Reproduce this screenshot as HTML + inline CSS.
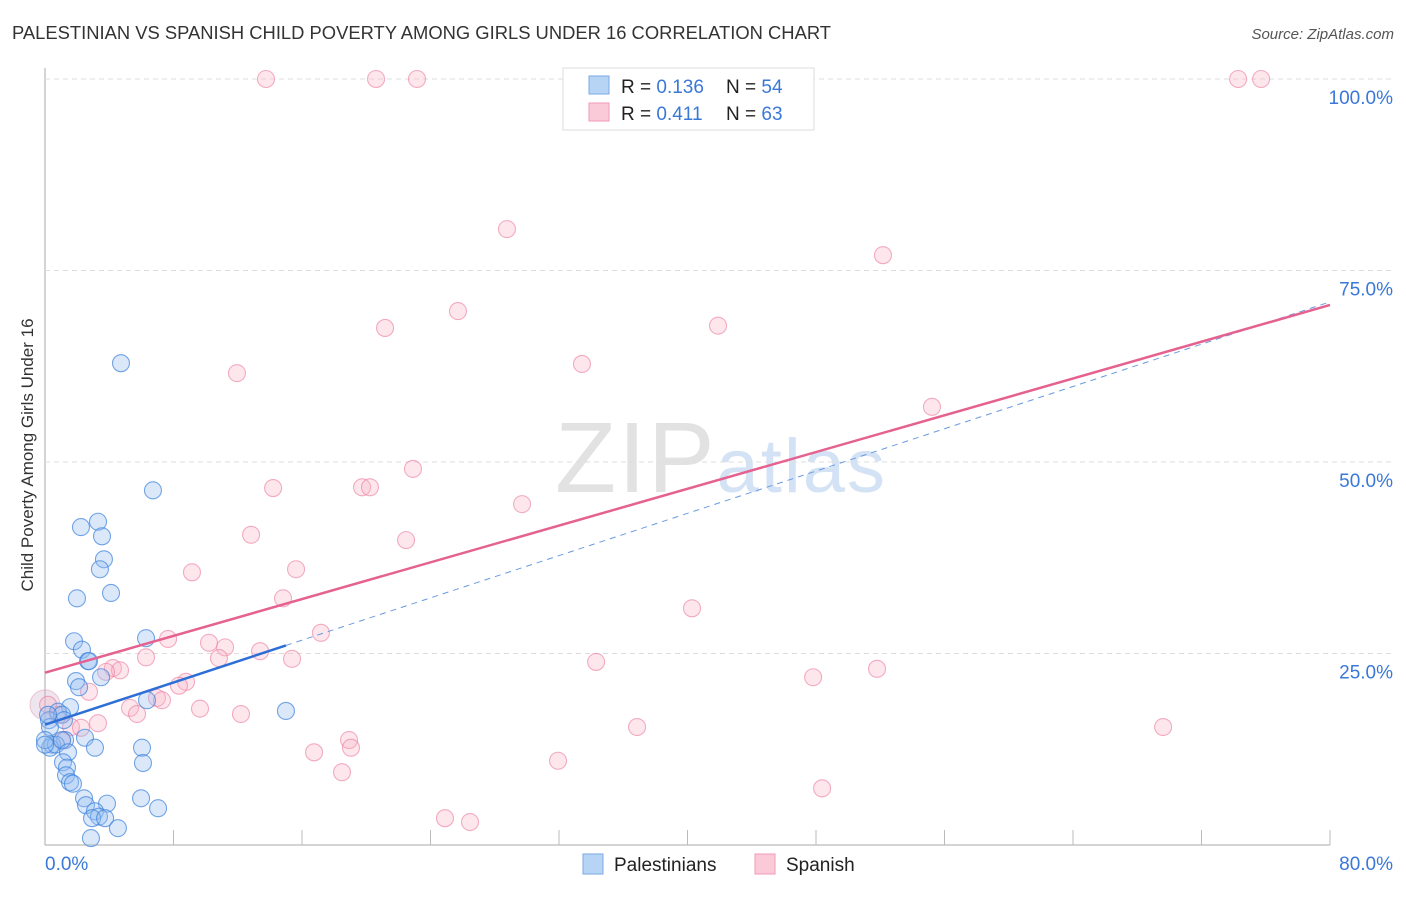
<!DOCTYPE html>
<html><head><meta charset="utf-8"><style>
body{margin:0;background:#fff;font-family:"Liberation Sans",sans-serif}
svg text{font-family:"Liberation Sans",sans-serif}
</style></head><body>
<svg id="c" width="1406" height="892">
<text x="12" y="39" font-size="18" fill="#333" textLength="819" lengthAdjust="spacingAndGlyphs">PALESTINIAN VS SPANISH CHILD POVERTY AMONG GIRLS UNDER 16 CORRELATION CHART</text>
<text x="1394" y="39" font-size="15" fill="#555" text-anchor="end" font-style="italic">Source: ZipAtlas.com</text>
<text x="720" y="492" font-size="100" fill="#e2e2e2" text-anchor="middle" font-family="Liberation Serif" textLength="330">ZIP<tspan fill="#d3e2f4" font-family="Liberation Sans" font-size="76">atlas</tspan></text>
<text transform="translate(33,455) rotate(-90)" font-size="17" fill="#333" text-anchor="middle">Child Poverty Among Girls Under 16</text>
<g id="grid"></g><g id="pts"></g><g id="lines"></g>
<g>
<rect x="563" y="68" width="251" height="62" fill="#fff" stroke="#ddd"/>
<rect x="589" y="76" width="20" height="18" fill="#b8d4f5" stroke="#7aaae8"/>
<rect x="589" y="103" width="20" height="18" fill="#fbcad8" stroke="#f19ab5"/>
<text x="621" y="93" font-size="19" fill="#222">R = <tspan fill="#3a78d8">0.136</tspan><tspan x="726">N = </tspan><tspan fill="#3a78d8">54</tspan></text>
<text x="621" y="120" font-size="19" fill="#222">R = <tspan fill="#3a78d8">0.411</tspan><tspan x="726">N = </tspan><tspan fill="#3a78d8">63</tspan></text>
</g>
<g>
<rect x="583" y="854" width="20" height="20" fill="#b8d4f5" stroke="#7aaae8"/>
<text x="614" y="871" font-size="19" fill="#222">Palestinians</text>
<rect x="755" y="854" width="20" height="20" fill="#fbcad8" stroke="#f19ab5"/>
<text x="786" y="871" font-size="19" fill="#222">Spanish</text>
</g>
</svg>
<script>
const xTicks=[0,80];
const yTicks=[25,50,75,100];
const blueX=[4.73,6.72,2.24,3.30,3.55,3.67,3.42,4.11,1.99,1.81,2.30,2.68,2.74,1.93,2.12,3.49,6.29,6.35,15.0,1.56,0.81,1.06,0.25,0.31,1.18,1.25,0.44,0.31,0.68,1.06,2.49,3.11,1.43,6.04,6.10,1.12,1.37,1.31,1.56,1.74,2.43,2.55,3.86,3.11,3.36,2.93,3.74,5.98,7.04,4.54,2.86,0,0,0.19];
const blueY=[62.9,46.3,41.5,42.2,40.3,37.3,36.0,32.9,32.2,26.6,25.5,24.0,24.0,21.4,20.6,21.9,27.0,18.9,17.5,18.0,17.4,17.0,16.3,15.4,16.3,13.7,13.1,12.7,13.1,13.7,14.0,12.7,12.1,12.7,10.7,10.8,10.1,9.1,8.2,8.0,6.1,5.2,5.4,4.4,3.7,3.5,3.5,6.1,4.8,2.2,0.9,13.7,13.1,17.0];
const pinkX=[13.76,20.61,23.16,74.28,75.71,28.76,52.17,25.71,21.17,41.90,11.95,33.43,55.22,22.91,14.20,19.74,20.23,29.70,12.83,22.48,9.15,15.63,14.82,40.28,17.18,7.66,10.21,11.21,6.29,10.83,13.39,15.38,34.31,51.80,47.82,4.23,4.67,3.80,8.78,8.34,6.97,7.28,5.29,5.73,9.65,12.20,2.74,3.30,1.62,2.24,1.06,0.81,0.19,16.75,18.93,19.05,18.49,36.86,69.61,31.94,48.38,24.90,26.46];
const pinkY=[100,100,100,100,100,80.4,77.0,69.7,67.5,67.8,61.6,62.8,57.2,49.1,46.6,46.7,46.7,44.5,40.5,39.8,35.6,36.0,32.2,30.9,27.7,26.9,26.4,25.8,24.5,24.4,25.3,24.3,23.9,23.0,21.9,23.1,22.8,22.6,21.3,20.8,19.2,18.9,17.9,17.1,17.8,17.1,20.0,15.9,15.4,15.3,13.6,17.0,18.3,12.1,13.7,12.7,9.5,15.4,15.4,11.0,7.4,3.5,3.0];
const blueTrend=[15.7,0.69];
const pinkTrend=[22.5,0.60];
const X=v=>45+v*1285/80, Y=v=>845-v*7.66;
const NS='http://www.w3.org/2000/svg';
function mk(t,a,p){const e=document.createElementNS(NS,t);for(const k in a)e.setAttribute(k,a[k]);p.appendChild(e);return e;}
const g=document.getElementById('grid');
const ax=mk('line',{x1:45,y1:68,x2:45,y2:845,stroke:'#aaa'},g);


const bx=mk('line',{x1:45,y1:845,x2:1330,y2:845,stroke:'#aaa'},g);


for(let i=1;i<=10;i++){const t=mk('line',{x1:45+i*128.5,y1:830,x2:45+i*128.5,y2:845,stroke:'#bbb'},g);

}
yTicks.forEach(v=>{const l=mk('line',{x1:45,y1:Y(v),x2:1395,y2:Y(v),stroke:'#ddd','stroke-dasharray':'5,4'},g);


const t=mk('text',{x:1393,y:Y(v)+25,'font-size':19,fill:'#3a78d8','text-anchor':'end'},g);t.textContent=v.toFixed(1)+'%';

});
xTicks.forEach((v,i)=>{const t=mk('text',{x:i?1393:45,y:870,'font-size':19,fill:'#3a78d8','text-anchor':i?'end':'start'},g);t.textContent=v.toFixed(1)+'%';

});
const p=document.getElementById('pts');
const big=mk('circle',{cx:X(0),cy:Y(18.3),r:15,fill:'rgba(200,170,200,0.3)',stroke:'rgba(220,140,170,0.45)'},p);


pinkX.forEach((x,i)=>{const c=mk('circle',{cx:X(x),cy:Y(pinkY[i]),r:8.5,fill:'rgba(248,180,200,0.32)',stroke:'rgba(236,130,165,0.65)','stroke-width':1.1},p);

});
blueX.forEach((x,i)=>{const c=mk('circle',{cx:X(x),cy:Y(blueY[i]),r:8.5,fill:'rgba(150,190,240,0.35)',stroke:'rgba(60,130,220,0.7)','stroke-width':1.1},p);

});
const L=document.getElementById('lines');
const bt=v=>blueTrend[0]+blueTrend[1]*v, pt=v=>pinkTrend[0]+pinkTrend[1]*v;
const l1=mk('line',{x1:X(15),y1:Y(bt(15)),x2:X(80),y2:Y(bt(80)),stroke:'#6a9ae0','stroke-width':1,'stroke-dasharray':'6,5'},L);


const l2=mk('line',{x1:X(0),y1:Y(pt(0)),x2:X(80),y2:Y(pt(80)),stroke:'#e5618f','stroke-width':2.5},L);


const l3=mk('line',{x1:X(0),y1:Y(bt(0)),x2:X(15),y2:Y(bt(15)),stroke:'#2d6fd6','stroke-width':2.5},L);


</script>
</body></html>
